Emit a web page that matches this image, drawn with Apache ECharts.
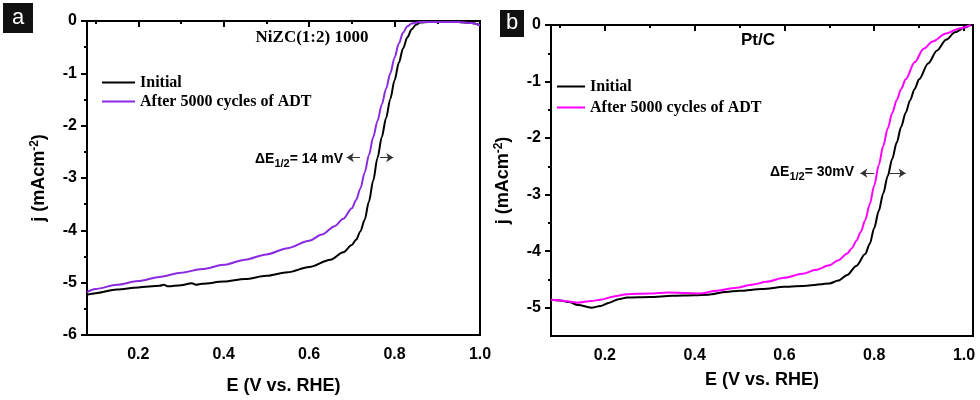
<!DOCTYPE html>
<html>
<head>
<meta charset="utf-8">
<script src="https://cdn.jsdelivr.net/npm/echarts@6/dist/echarts.min.js"></script>
<style>
html,body{margin:0;padding:0;background:#fff;}
#chart{width:980px;height:400px;}
</style>
</head>
<body>
<div id="chart"></div>
<script>
// ---------- Data ----------
// Panel a: NiZC(1:2) 1000
const aInitialX = [0.08,0.10,0.15,0.20,0.25,0.26,0.27,0.30,0.325,0.335,0.35,0.40,0.45,0.50,0.55,0.60,0.65,0.68,0.70,0.71,0.72,0.73,0.74,0.75,0.76,0.77,0.78,0.79,0.80,0.81,0.82,0.83,0.84,0.85,0.86,0.88,0.90,0.95,0.98,1.00];
const aInitialY = [-5.23,-5.20,-5.13,-5.09,-5.06,-5.04,-5.07,-5.05,-5.01,-5.04,-5.02,-4.98,-4.93,-4.87,-4.80,-4.70,-4.56,-4.42,-4.28,-4.18,-4.02,-3.80,-3.45,-3.05,-2.62,-2.22,-1.86,-1.49,-1.13,-0.80,-0.52,-0.31,-0.16,-0.07,-0.03,-0.02,-0.02,-0.02,-0.04,-0.08];
const aAfterX = [0.08,0.10,0.15,0.20,0.25,0.30,0.35,0.40,0.45,0.50,0.55,0.60,0.63,0.66,0.68,0.70,0.71,0.72,0.73,0.74,0.75,0.76,0.77,0.78,0.79,0.80,0.81,0.82,0.83,0.84,0.86,0.95,0.98,1.00];
const aAfterY = [-5.18,-5.12,-5.04,-4.97,-4.89,-4.81,-4.74,-4.66,-4.56,-4.46,-4.34,-4.20,-4.08,-3.92,-3.78,-3.58,-3.42,-3.20,-2.90,-2.56,-2.22,-1.91,-1.60,-1.30,-1.00,-0.70,-0.43,-0.22,-0.10,-0.05,-0.02,-0.02,-0.04,-0.08];

// Panel b: Pt/C
const bInitialX = [0.08,0.10,0.12,0.14,0.17,0.19,0.21,0.23,0.25,0.30,0.35,0.40,0.43,0.47,0.50,0.55,0.60,0.65,0.70,0.72,0.74,0.76,0.78,0.79,0.80,0.81,0.82,0.83,0.84,0.85,0.86,0.87,0.88,0.89,0.90,0.92,0.94,0.96,0.98,1.00,1.015];
const bInitialY = [-4.86,-4.87,-4.90,-4.95,-5.00,-4.97,-4.91,-4.85,-4.82,-4.81,-4.79,-4.78,-4.77,-4.72,-4.70,-4.67,-4.63,-4.61,-4.57,-4.52,-4.42,-4.26,-4.05,-3.87,-3.59,-3.29,-2.98,-2.67,-2.37,-2.08,-1.80,-1.55,-1.33,-1.13,-0.96,-0.68,-0.45,-0.26,-0.13,-0.05,0.00];
const bAfterX = [0.08,0.10,0.14,0.17,0.19,0.22,0.25,0.30,0.34,0.38,0.41,0.45,0.49,0.53,0.56,0.60,0.64,0.67,0.70,0.72,0.74,0.75,0.76,0.77,0.78,0.79,0.80,0.81,0.82,0.83,0.84,0.85,0.86,0.87,0.89,0.91,0.93,0.96,0.99,1.015];
const bAfterY = [-4.86,-4.87,-4.91,-4.88,-4.86,-4.80,-4.76,-4.75,-4.73,-4.74,-4.75,-4.70,-4.65,-4.59,-4.54,-4.47,-4.40,-4.33,-4.25,-4.16,-4.04,-3.95,-3.82,-3.66,-3.45,-3.17,-2.84,-2.48,-2.14,-1.83,-1.56,-1.33,-1.13,-0.96,-0.66,-0.42,-0.29,-0.15,-0.06,0.00];

// Tick labels
const xMajorTicks = [0.2,0.4,0.6,0.8,1.0];
const xMinorTicks = [0.1,0.3,0.5,0.7,0.9];
const aYMajorTicks = [-6,-5,-4,-3,-2,-1,0];
const aYMinorTicks = [-5.5,-4.5,-3.5,-2.5,-1.5,-0.5];
const bYMajorTicks = [-5,-4,-3,-2,-1,0];
const bYMinorTicks = [-4.5,-3.5,-2.5,-1.5,-0.5];

// Text
const seriesNames = ['Initial','After 5000 cycles of ADT'];
const titleA = 'NiZC(1:2) 1000';
const titleB = 'Pt/C';
const deltaA = '= 14 mV';
const deltaB = '= 30mV';
// arrow positions (data coords): [xStart, xEnd, y]
const arrowsA = [[0.719,0.688,-2.61],[0.766,0.797,-2.61]];
const arrowsB = [[0.800,0.769,-2.62],[0.833,0.870,-2.62]];

const zip = (xs, ys) => xs.map((x, i) => [x, ys[i]]);

const SANS = '"Liberation Sans", Arial, sans-serif';
const SERIF = '"Liberation Serif", "Times New Roman", serif';

function fmtX(v){ return v === 1 ? '1.0' : String(v); }

function makeXAxes(grid, min, max, nameGap){
  return [
    {
      type:'value', gridIndex:grid, min:min, max:max, position:'bottom',
      name:'E (V vs. RHE)', nameLocation:'middle', nameGap:nameGap,
      nameTextStyle:{fontFamily:SANS, fontWeight:'bold', fontSize:18, color:'#000'},
      axisLine:{show:true, lineStyle:{color:'#000', width:2}},
      axisTick:{show:true, inside:false, length:6, lineStyle:{color:'#000', width:2}, customValues:xMajorTicks},
      axisLabel:{show:true, margin:12, fontFamily:SANS, fontWeight:'bold', fontSize:16, color:'#000', customValues:xMajorTicks, formatter:fmtX},
      splitLine:{show:false}
    },
    {
      type:'value', gridIndex:grid, min:min, max:max, position:'bottom',
      axisLine:{show:false},
      axisTick:{show:true, inside:false, length:3, lineStyle:{color:'#000', width:2}, customValues:xMinorTicks},
      axisLabel:{show:false},
      splitLine:{show:false}
    }
  ];
}

function makeYAxes(grid, min, max, major, minor, nameGap){
  return [
    {
      type:'value', gridIndex:grid, min:min, max:max, position:'left',
      name:'{t|j (mAcm}{s|-2}{t|)}', nameLocation:'middle', nameGap:nameGap,
      nameTextStyle:{
        color:'#000',
        rich:{
          t:{fontFamily:SANS, fontWeight:'bold', fontSize:18, color:'#000'},
          s:{fontFamily:SANS, fontWeight:'bold', fontSize:12, color:'#000', padding:[0,0,9,0]}
        }
      },
      axisLine:{show:true, lineStyle:{color:'#000', width:2}},
      axisTick:{show:true, inside:false, length:6, lineStyle:{color:'#000', width:2}, customValues:major},
      axisLabel:{show:true, margin:10, fontFamily:SANS, fontWeight:'bold', fontSize:16, color:'#000', customValues:major},
      splitLine:{show:false}
    },
    {
      type:'value', gridIndex:grid, min:min, max:max, position:'left',
      axisLine:{show:false},
      axisTick:{show:true, inside:false, length:3, lineStyle:{color:'#000', width:2}, customValues:minor},
      axisLabel:{show:false},
      splitLine:{show:false}
    }
  ];
}

function arrowMarkLine(arrows){
  return {
    silent:true,
    symbol:['none','arrow'],
    symbolSize:[7,7],
    label:{show:false},
    lineStyle:{color:'#333', width:1, type:'solid'},
    emphasis:{disabled:true},
    data: arrows.map(a => [{coord:[a[0],a[2]]},{coord:[a[1],a[2]]}])
  };
}

function lineSeries(name, data, color, xi, yi, extra){
  return Object.assign({
    type:'line', name:name, data:data,
    xAxisIndex:xi, yAxisIndex:yi,
    showSymbol:false, symbol:'none',
    smooth:0.3, smoothMonotone:'x',
    lineStyle:{color:color, width:2},
    itemStyle:{color:color},
    animation:false, silent:true
  }, extra || {});
}

const purple = '#8A2BE2';
const magenta = '#FF00FF';

const chart = echarts.init(document.getElementById('chart'), null, {renderer:'canvas'});

const deltaRich = {
  n:{fontFamily:SANS, fontWeight:'bold', fontSize:14, fill:'#000'},
  s:{fontFamily:SANS, fontWeight:'bold', fontSize:11, fill:'#000', padding:[8,0,0,0]}
};

const option = {
  backgroundColor:'#fff',
  animation:false,
  grid:[
    {left:87, top:21, width:393, height:319, show:true, borderColor:'#000', borderWidth:2, backgroundColor:'transparent'},
    {left:551, top:25, width:422, height:311, show:true, borderColor:'#000', borderWidth:2, backgroundColor:'transparent'}
  ],
  xAxis: [].concat(makeXAxes(0, 0.08, 1.0, 42), makeXAxes(1, 0.08, 1.02, 35)),
  yAxis: [].concat(makeYAxes(0, -6, 0, aYMajorTicks, aYMinorTicks, 37), makeYAxes(1, -5.5, 0, bYMajorTicks, bYMinorTicks, 37)),
  legend:[
    {
      orient:'vertical', left:97, top:69, itemWidth:33, itemHeight:2, itemGap:2, icon:'rect',
      selectedMode:false,
      textStyle:{fontFamily:SERIF, fontWeight:'bold', fontSize:16, color:'#000', lineHeight:17},
      data:[
        {name:seriesNames[0], itemStyle:{color:'#000'}},
        {name:seriesNames[1], itemStyle:{color:purple}}
      ]
    },
    {
      orient:'vertical', left:552, top:73, itemWidth:28, itemHeight:2, itemGap:4, icon:'rect',
      selectedMode:false,
      textStyle:{fontFamily:SERIF, fontWeight:'bold', fontSize:16, color:'#000', lineHeight:17},
      data:[
        {name:seriesNames[0], itemStyle:{color:'#000'}},
        {name:seriesNames[1], itemStyle:{color:magenta}}
      ]
    }
  ],
  title:[
    {text:titleA, left:307, top:24, textAlign:'center', textStyle:{fontFamily:SERIF, fontWeight:'bold', fontSize:17, color:'#000'}},
    {text:titleB, left:753, top:27, textAlign:'center', textStyle:{fontFamily:SANS, fontWeight:'bold', fontSize:17, color:'#000'}}
  ],
  series:[
    lineSeries(seriesNames[0], zip(aInitialX, aInitialY), '#000', 0, 0, {markLine:arrowMarkLine(arrowsA)}),
    lineSeries(seriesNames[1], zip(aAfterX, aAfterY), purple, 0, 0),
    lineSeries(seriesNames[0], zip(bInitialX, bInitialY), '#000', 2, 2, {markLine:arrowMarkLine(arrowsB)}),
    lineSeries(seriesNames[1], zip(bAfterX, bAfterY), magenta, 2, 2)
  ],
  graphic:[
    {type:'rect', x:3, y:3, shape:{x:0, y:0, width:30, height:30}, style:{fill:'#111'}},
    {type:'text', x:18, y:18, style:{text:'a', fill:'#fff', font:'22px "Liberation Sans", Arial, sans-serif', align:'center', verticalAlign:'middle'}},
    {type:'rect', x:500, y:10, shape:{x:0, y:0, width:24, height:27}, style:{fill:'#111'}},
    {type:'text', x:512, y:23, style:{text:'b', fill:'#fff', font:'22px "Liberation Sans", Arial, sans-serif', align:'center', verticalAlign:'middle'}},
    {type:'text', x:255, y:150, style:{text:'{n|ΔE}{s|1/2}{n|' + deltaA + '}', rich:deltaRich}},
    {type:'text', x:770, y:163, style:{text:'{n|ΔE}{s|1/2}{n|' + deltaB + '}', rich:deltaRich}}
  ]
};

chart.setOption(option);
</script>
</body>
</html>
